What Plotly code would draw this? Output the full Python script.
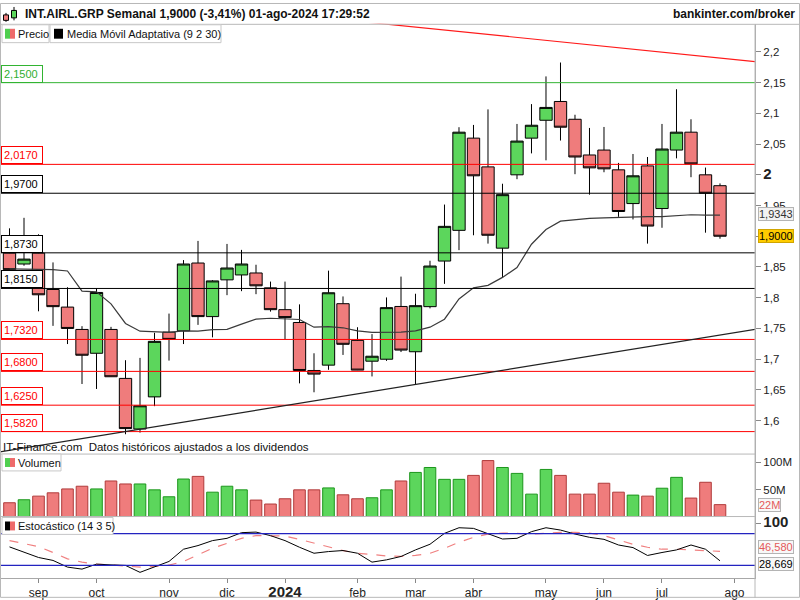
import plotly.graph_objects as go
import pandas as pd

# ---------------- data ----------------
weeks = ["2023-08-21", "2023-08-28", "2023-09-04", "2023-09-11", "2023-09-18", "2023-09-25",
         "2023-10-02", "2023-10-09", "2023-10-16", "2023-10-23", "2023-10-30",
         "2023-11-06", "2023-11-13", "2023-11-20", "2023-11-27",
         "2023-12-04", "2023-12-11", "2023-12-18", "2023-12-25",
         "2024-01-01", "2024-01-08", "2024-01-15", "2024-01-22", "2024-01-29",
         "2024-02-05", "2024-02-12", "2024-02-19", "2024-02-26",
         "2024-03-04", "2024-03-11", "2024-03-18", "2024-03-25",
         "2024-04-01", "2024-04-08", "2024-04-15", "2024-04-22", "2024-04-29",
         "2024-05-06", "2024-05-13", "2024-05-20", "2024-05-27",
         "2024-06-03", "2024-06-10", "2024-06-17", "2024-06-24",
         "2024-07-01", "2024-07-08", "2024-07-15", "2024-07-22", "2024-07-29"]

opens = [1.8725, 1.8548, 1.8725, 1.8133, 1.7847, 1.7483, 1.7095, 1.7483, 1.6686, 1.5862,
         1.6385, 1.7439, 1.7460, 1.8564, 1.7692, 1.8290, 1.8370, 1.8402, 1.8160, 1.7805,
         1.7596, 1.6815, 1.6902, 1.7902, 1.7305, 1.6966, 1.6998, 1.7857, 1.7120, 1.7854,
         1.8596, 1.9096, 2.0597, 2.0129, 1.8806, 2.0000, 2.0597, 2.0888, 2.1194, 2.0904,
         2.0323, 2.0403, 2.0081, 1.9532, 2.0145, 1.9451, 2.0403, 2.0694, 2.0000, 1.9823]
highs = [1.9129, 1.9300, 1.9032, 1.8574, 1.8170, 1.7536, 1.8154, 1.7525, 1.6982, 1.7020,
         1.7428, 1.7741, 1.8612, 1.8924, 1.8285, 1.8875, 1.8778, 1.8536, 1.8262, 1.8262,
         1.7891, 1.7095, 1.8440, 1.8020, 1.7519, 1.7407, 1.8004, 1.8343, 1.8064, 1.8601,
         1.9516, 2.0775, 2.0812, 2.1065, 1.9855, 2.0828, 2.1151, 2.1602, 2.1828, 2.0978,
         2.0763, 2.0779, 2.0194, 2.0339, 2.0290, 2.0828, 2.1393, 2.0904, 2.0118, 1.9860]
lows = [1.8412, 1.8520, 1.7778, 1.7541, 1.7245, 1.6595, 1.6514, 1.6710, 1.5777, 1.5804,
        1.6234, 1.6976, 1.7245, 1.7557, 1.7354, 1.8041, 1.8106, 1.8057, 1.7773, 1.7321,
        1.6605, 1.6460, 1.6826, 1.7068, 1.6820, 1.6718, 1.6971, 1.7115, 1.6584, 1.7826,
        1.8225, 1.8774, 1.9016, 1.8880, 1.8331, 1.9929, 2.0349, 2.0236, 2.0558, 2.0010,
        1.9677, 2.0042, 1.9316, 1.9274, 1.8880, 1.9138, 2.0268, 1.9961, 1.9058, 1.8960]
closes = [1.8456, 1.8628, 1.8047, 1.7854, 1.7499, 1.7063, 1.8085, 1.6713, 1.5869, 1.6240,
          1.7289, 1.7321, 1.8548, 1.7692, 1.8273, 1.8483, 1.8548, 1.8193, 1.7805, 1.7676,
          1.6815, 1.6756, 1.8080, 1.7241, 1.6821, 1.7047, 1.7838, 1.7147, 1.7870, 1.8515,
          1.9161, 2.0694, 1.9984, 1.9016, 1.9677, 2.0549, 2.0807, 2.1097, 2.0775, 2.0290,
          2.0113, 2.0097, 1.9403, 1.9984, 1.9166, 2.0420, 2.0694, 2.0178, 1.9700, 1.9000]

ama = [1.8470, 1.8470, 1.8460, 1.8456, 1.8435, 1.8106, 1.8096, 1.7900, 1.7580, 1.7455,
       1.7440, 1.7435, 1.7460, 1.7455, 1.7480, 1.7485, 1.7570, 1.7650, 1.7665, 1.7660,
       1.7645, 1.7520, 1.7530, 1.7510, 1.7460, 1.7435, 1.7435, 1.7440, 1.7460, 1.7520,
       1.7650, 1.7980, 1.8160, 1.8200, 1.8330, 1.8490, 1.8870, 1.9110, 1.9246, 1.9270,
       1.9290, 1.9300, 1.9310, 1.9320, 1.9320, 1.9320, 1.9330, 1.9350, 1.9345, 1.9343]

volume_m = [25.5, 31.0, 37.7, 43.8, 51.0, 56.0, 51.0, 65.7, 60.2, 60.2,
            49.3, 36.5, 69.3, 74.2, 45.0, 56.0, 49.3, 30.4, 23.1, 32.8,
            49.3, 49.3, 52.9, 40.1, 32.8, 34.7, 49.3, 65.7, 81.5, 90.6,
            68.7, 68.7, 76.0, 103.4, 90.6, 79.7, 41.4, 87.0, 76.0, 41.4,
            41.4, 61.5, 45.0, 39.6, 37.7, 52.3, 72.4, 34.1, 63.3, 22.0]

stoch_k = [55.0, 44.7, 35.0, 29.4, 16.8, 13.0, 22.4, 21.0, 20.0, 6.9,
           17.0, 27.5, 50.6, 57.5, 66.9, 71.2, 81.9, 83.0, 76.3, 66.9,
           54.3, 43.0, 46.2, 48.1, 43.0, 26.2, 30.5, 36.9, 49.3, 60.0,
           80.6, 91.2, 90.0, 80.6, 69.9, 71.2, 83.8, 91.2, 86.8, 79.3,
           73.1, 69.3, 58.6, 53.7, 38.8, 44.4, 49.3, 58.6, 50.6, 28.669]
stoch_d = [67.0, 61.0, 55.6, 44.4, 32.4, 26.2, 22.4, 21.0, 19.0, 16.8,
           18.0, 20.6, 27.5, 39.9, 52.4, 61.8, 71.2, 76.3, 76.3, 75.5,
           69.3, 61.8, 54.3, 48.1, 43.0, 39.9, 38.0, 36.9, 38.8, 43.0,
           52.4, 63.7, 73.1, 79.3, 81.1, 80.6, 79.3, 80.6, 82.4, 82.4,
           81.1, 76.3, 68.0, 60.0, 54.3, 50.6, 50.6, 49.3, 48.1, 46.58]

levels = [2.1500, 2.0170, 1.9700, 1.8730, 1.8150, 1.7320, 1.6800, 1.6250, 1.5820]
level_kinds = ["green", "red", "black", "black", "black", "red", "red", "red", "red"]

trend_red_x = ["2024-01-29", "2024-08-19"]
trend_red_y = [2.2524, 2.1830]
trend_black_x = ["2023-08-14", "2024-08-19"]
trend_black_y = [1.5478, 1.7505]

month_labels = ["sep", "oct", "nov", "dic", "2024", "feb", "mar", "abr", "may", "jun", "jul", "ago"]
month_weeks = ["2023-09-04", "2023-10-02", "2023-11-06", "2023-12-04", "2024-01-01", "2024-02-05",
               "2024-03-04", "2024-04-01", "2024-05-06", "2024-06-03", "2024-07-01", "2024-08-05"]

price_ticks = [1.6, 1.65, 1.7, 1.75, 1.8, 1.85, 1.9, 1.95, 2.0, 2.05, 2.1, 2.15, 2.2]
price_tick_text = ["1,6", "1,65", "1,7", "1,75", "1,8", "1,85", "", "1,95", "2", "2,05", "2,1", "2,15", "2,2"]

title_text = "INT.AIRL.GRP Semanal 1,9000 (-3,41%) 01-ago-2024 17:29:52"

# ---------------- styles / geometry ----------------
W, H = 800, 600
ML, MR, MT, MB = 0, 45, 0, 20
PW, PH = W - ML - MR, H - MT - MB


def px(x):
    return (x - ML) / PW


def py(y):
    return (H - MB - y) / PH


FONT = "Liberation Sans"
GREEN = "#5cd65c"
RED = "#ef7c7c"
GREEN_EDGE = "#1c961c"
RED_EDGE = "#b03a3a"
LEVEL_COL = {"green": "#32b432", "red": "#ff0000", "black": "#000000"}

w0 = pd.Timestamp(weeks[0])
x_range = [w0 - pd.Timedelta(days=4.585), w0 + pd.Timedelta(days=359.9)]

fig = go.Figure()

# candles
fig.add_trace(go.Candlestick(
    x=weeks, open=opens, high=highs, low=lows, close=closes,
    increasing=dict(line=dict(color="black", width=1), fillcolor=GREEN),
    decreasing=dict(line=dict(color="black", width=1), fillcolor=RED),
    whiskerwidth=0, xaxis="x", yaxis="y", showlegend=False, hoverinfo="skip"))

# adaptive moving average
fig.add_trace(go.Scatter(x=weeks, y=ama, mode="lines", line=dict(color="#3a3a3a", width=1.2),
                         xaxis="x", yaxis="y", showlegend=False, hoverinfo="skip"))

# volume
up = [(closes[i] >= closes[i - 1]) if i > 0 else (closes[0] >= opens[0]) for i in range(len(closes))]
fig.add_trace(go.Bar(
    x=weeks, y=[v * 1e6 for v in volume_m],
    width=7 * 86400000 * 0.8,
    marker=dict(color=[GREEN if u else RED for u in up],
                line=dict(color=[GREEN_EDGE if u else RED_EDGE for u in up], width=1)),
    xaxis="x", yaxis="y2", showlegend=False, hoverinfo="skip"))

# stochastic
fig.add_trace(go.Scatter(x=weeks, y=stoch_d, mode="lines",
                         line=dict(color="#f08080", width=1.2, dash="dash"),
                         xaxis="x", yaxis="y3", showlegend=False, hoverinfo="skip"))
fig.add_trace(go.Scatter(x=weeks, y=stoch_k, mode="lines",
                         line=dict(color="#000000", width=1),
                         xaxis="x", yaxis="y3", showlegend=False, hoverinfo="skip"))

shapes = []
annotations = []

# horizontal levels + labels
for lv, kind in zip(levels, level_kinds):
    c = LEVEL_COL[kind]
    shapes.append(dict(type="line", xref="paper", yref="y", x0=0, x1=1, y0=lv, y1=lv,
                       line=dict(color=c, width=1), layer="above"))
    annotations.append(dict(xref="paper", yref="y", x=px(1), y=lv, xanchor="left", yanchor="bottom",
                            text=f"{lv:.4f}".replace(".", ","), showarrow=False,
                            font=dict(family=FONT, size=11, color=c if kind != "green" else "#2fae2f"),
                            bgcolor="white", bordercolor=c, borderwidth=1, borderpad=2,
                            width=36, align="left"))

# trend lines
shapes.append(dict(type="line", xref="x", yref="y", x0=trend_red_x[0], x1=trend_red_x[1],
                   y0=trend_red_y[0], y1=trend_red_y[1], line=dict(color="#ff1a1a", width=1.2)))
shapes.append(dict(type="line", xref="x", yref="y", x0=trend_black_x[0], x1=trend_black_x[1],
                   y0=trend_black_y[0], y1=trend_black_y[1], line=dict(color="#222222", width=1.2)))

# stochastic bands
for b in (80, 20):
    shapes.append(dict(type="line", xref="paper", yref="y3", x0=0, x1=1, y0=b, y1=b,
                       line=dict(color="#2323c0", width=1.2)))

# frame / separators
LC = "#b8b8b8"
shapes += [
    dict(type="rect", xref="paper", yref="paper", x0=px(0.5), x1=px(799.5), y0=py(599.5), y1=py(0.5),
         line=dict(color=LC, width=1)),
    dict(type="line", xref="paper", yref="paper", x0=px(0), x1=px(800), y0=py(21.5), y1=py(21.5),
         line=dict(color=LC, width=1)),
    dict(type="line", xref="paper", yref="paper", x0=px(0), x1=px(755), y0=py(455), y1=py(455),
         line=dict(color=LC, width=1)),
    dict(type="line", xref="paper", yref="paper", x0=px(0), x1=px(755), y0=py(518), y1=py(518),
         line=dict(color=LC, width=1)),
    dict(type="line", xref="paper", yref="paper", x0=px(755), x1=px(755), y0=py(600), y1=py(21.5),
         line=dict(color=LC, width=1)),
]

# header icon
shapes += [
    dict(type="line", xref="paper", yref="paper", x0=px(6), x1=px(6), y0=py(19), y1=py(10),
         line=dict(color="black", width=1)),
    dict(type="rect", xref="paper", yref="paper", x0=px(3.5), x1=px(8.5), y0=py(17.5), y1=py(12),
         fillcolor=RED, line=dict(color="black", width=1)),
    dict(type="line", xref="paper", yref="paper", x0=px(14), x1=px(14), y0=py(17.5), y1=py(4),
         line=dict(color="black", width=1)),
    dict(type="rect", xref="paper", yref="paper", x0=px(11.5), x1=px(16.5), y0=py(15), y1=py(7.5),
         fillcolor=GREEN, line=dict(color="black", width=1)),
]


def legend_box(x0, x1, y0, y1, swatches, text, tx):
    shapes.append(dict(type="rect", xref="paper", yref="paper", x0=px(x0), x1=px(x1), y0=py(y1), y1=py(y0),
                       fillcolor="white", line=dict(color="#c8c8c8", width=1), layer="above"))
    for sx0, sx1, col in swatches:
        shapes.append(dict(type="rect", xref="paper", yref="paper", x0=px(sx0), x1=px(sx1),
                           y0=py(y1 - 4), y1=py(y0 + 4), fillcolor=col, line=dict(width=0), layer="above"))
    annotations.append(dict(xref="paper", yref="paper", x=px(tx), y=py((y0 + y1) / 2), xanchor="left",
                            yanchor="middle", text=text, showarrow=False,
                            font=dict(family=FONT, size=11, color="#111")))


legend_box(2, 49, 22, 40, [(5, 10, "#4fcf4f"), (10, 15, "#ee6a6a")], "Precio", 16)
legend_box(50, 221, 22, 40, [(54, 63, "#000000")], "Media Móvil Adaptativa (9 2 30)", 65)
legend_box(2, 61, 455, 472, [(5, 10, "#4fcf4f"), (10, 15, "#ee6a6a")], "Volumen", 16)
legend_box(2, 113, 519, 536, [(5, 10, "#000000"), (10, 15, "#ee6a6a")], "Estocástico (14 3 5)", 16)

# header texts
annotations.append(dict(xref="paper", yref="paper", x=px(23), y=py(11.5), xanchor="left", yanchor="middle",
                        text="<b>" + title_text + "</b>", showarrow=False,
                        font=dict(family=FONT, size=12, color="#111")))
annotations.append(dict(xref="paper", yref="paper", x=px(797), y=py(11.5), xanchor="right", yanchor="middle",
                        text="<b>bankinter.com/broker</b>", showarrow=False,
                        font=dict(family=FONT, size=12, color="#111")))
annotations.append(dict(xref="paper", yref="paper", x=px(1), y=py(447.5), xanchor="left", yanchor="middle",
                        text="IT-Finance.com  Datos históricos ajustados a los dividendos", showarrow=False,
                        font=dict(family=FONT, size=11.5, color="#111")))


def value_label(y, yref, text, fc, bg, bc, yshift=0):
    annotations.append(dict(xref="paper", yref=yref, x=px(758), y=y, xanchor="left", yanchor="middle",
                            text=text, showarrow=False, font=dict(family=FONT, size=11, color=fc),
                            bgcolor=bg, bordercolor=bc, borderwidth=1, borderpad=0, yshift=yshift))


value_label(ama[-1], "y", f"{ama[-1]:.4f}".replace(".", ","), "#333", "#f2f2f2", "#b4b4b4", 1)
value_label(closes[-1], "y", f"{closes[-1]:.4f}".replace(".", ","), "#000", "#ffcc00", "#d0a400")
value_label(volume_m[-1] * 1e6, "y2", f"{volume_m[-1]:.0f}M", "#e45a5a", "#f8f8f8", "#b4b4b4")
value_label(stoch_d[-1], "y3", f"{stoch_d[-1]:.3f}".replace(".", ","), "#e45a5a", "#f8f8f8", "#b4b4b4", 4)
value_label(stoch_k[-1], "y3", f"{stoch_k[-1]:.3f}".replace(".", ","), "#000", "#f8f8f8", "#b4b4b4", -3)

price_text = ["<span style='font-size:15px'><b>%s</b></span>" % t if t == "2" else t for t in price_tick_text]
month_text = ["<span style='font-size:15px'><b>%s</b></span>" % m if m.isdigit() else m for m in month_labels]

axis_common = dict(showgrid=False, zeroline=False, showline=True, linecolor="#a8a8a8", linewidth=1,
                   ticks="outside", ticklen=5, tickcolor="#888", side="right", anchor="x",
                   tickfont=dict(family=FONT, size=11.5, color="#222"), fixedrange=True)

fig.update_layout(
    width=W, height=H,
    margin=dict(l=ML, r=MR, t=MT, b=MB, pad=0),
    paper_bgcolor="white", plot_bgcolor="white",
    showlegend=False, separators=",.",
    boxgap=0.15, boxgroupgap=0,
    xaxis=dict(type="date", range=x_range, anchor="y3", showgrid=False, zeroline=False,
               showline=True, linecolor="#a8a8a8", ticks="outside", ticklen=4, tickcolor="#888",
               tickvals=month_weeks, ticktext=month_text,
               tickfont=dict(family=FONT, size=12, color="#222"),
               rangeslider=dict(visible=False), fixedrange=True),
    yaxis=dict(domain=[py(455), py(21)], range=[1.5454, 2.2458],
               tickvals=price_ticks, ticktext=price_text, **axis_common),
    yaxis2=dict(domain=[py(518), py(455)], range=[0, 115.4e6],
                tickvals=[50e6, 100e6], ticktext=["50M", "100M"], **axis_common),
    yaxis3=dict(domain=[0, py(518)], range=[-3.8, 112.4],
                tickvals=[100], ticktext=["<span style='font-size:15px'><b>100</b></span>"], **axis_common),
    shapes=shapes, annotations=annotations,
)

fig.write_html("out.html")
